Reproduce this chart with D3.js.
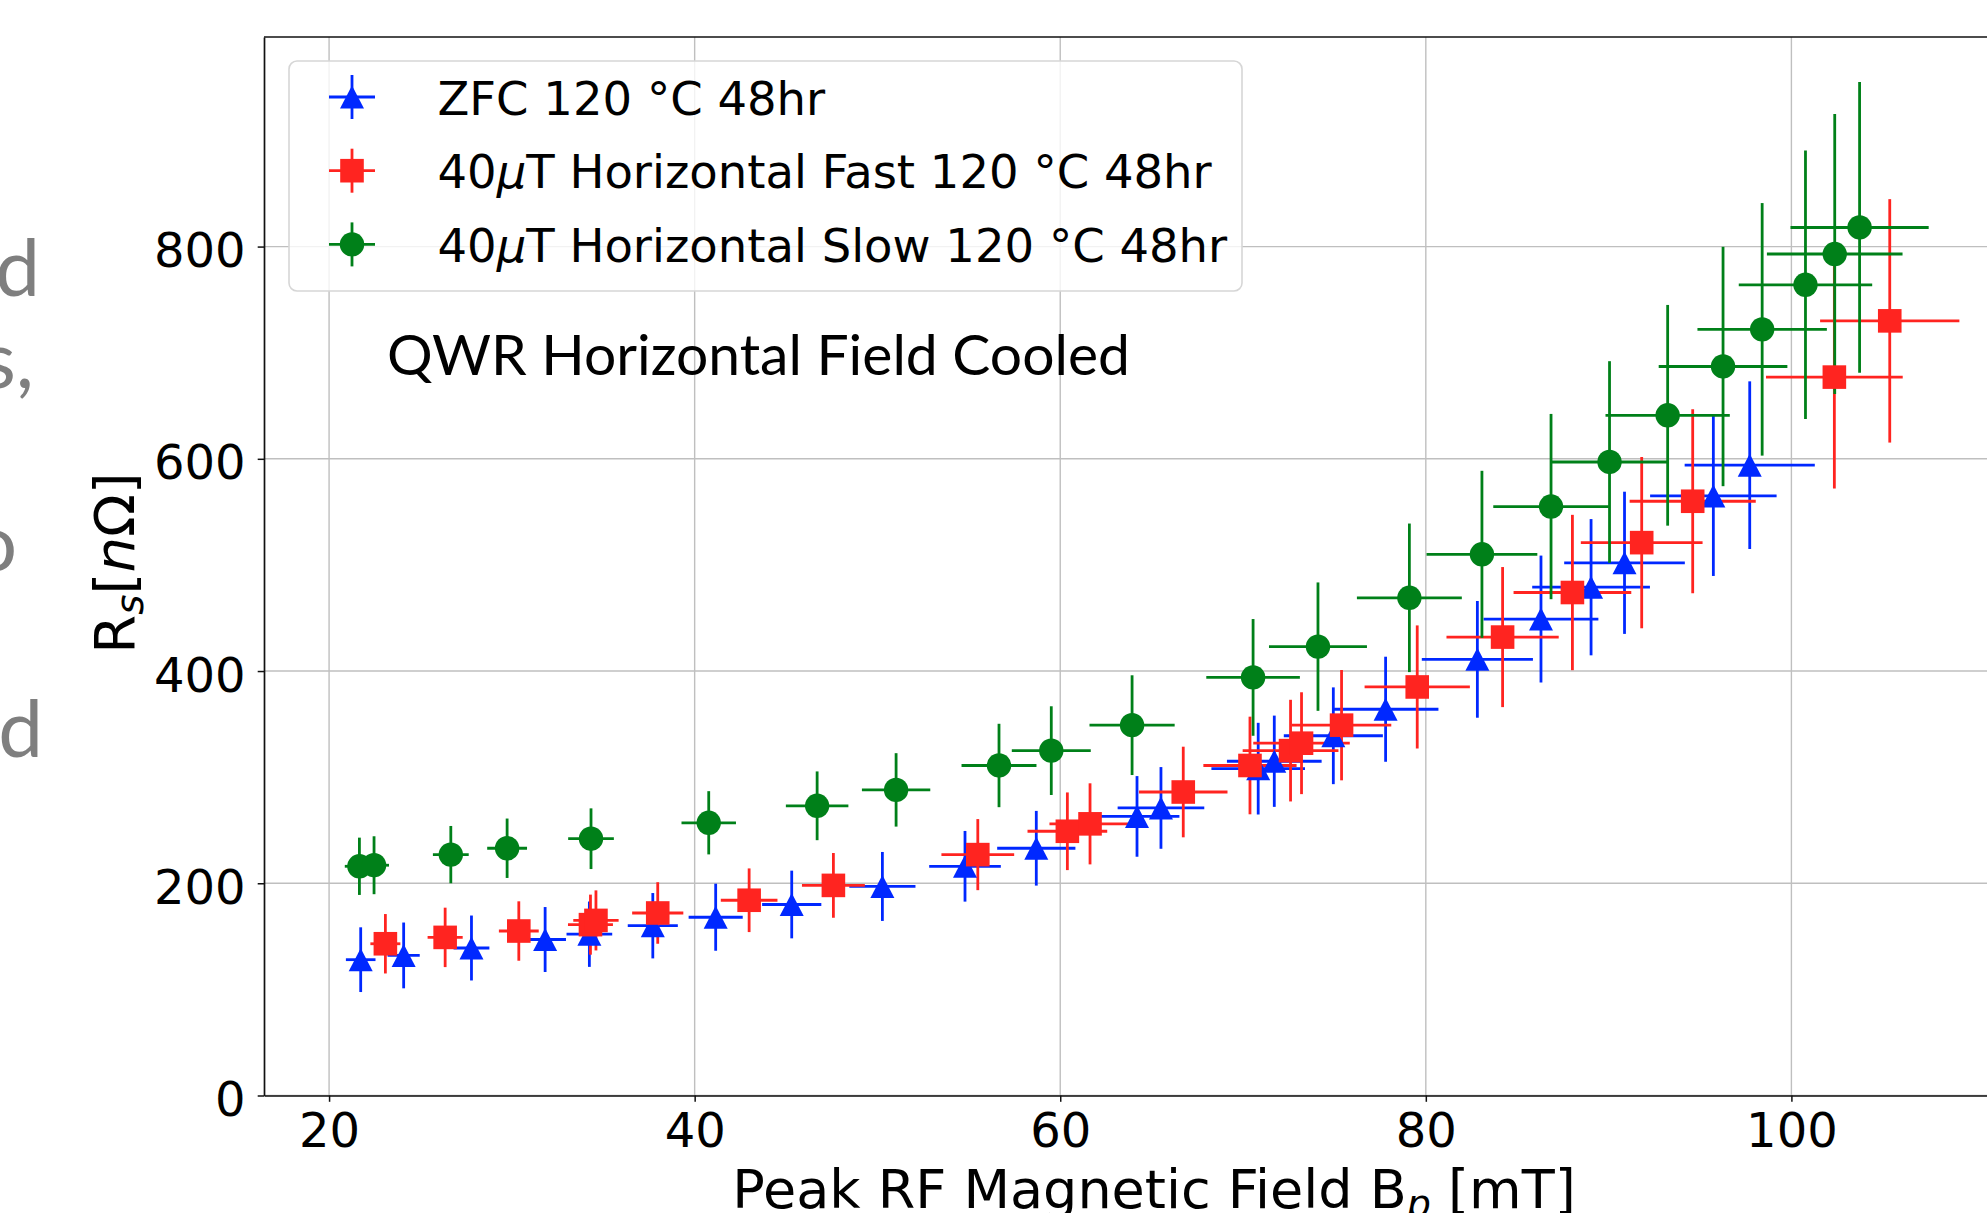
<!DOCTYPE html>
<html>
<head>
<meta charset="utf-8">
<script src="https://cdn.jsdelivr.net/npm/d3@7"></script>
<style>
    body { margin: 0; background: #fff; }
    svg { display: block; }
    .axis .tick text { font-family: 'DejaVu Sans'; font-size: 48px; fill: #000; }
</style>
</head>
<body>
<div class="chart-container"></div>
<script>
// Data
const xTicks = [20, 40, 60, 80, 100];
const yTicks = [0, 200, 400, 600, 800];
const seriesNames = ['ZFC', 'Fast', 'Slow'];

// ZFC 120 °C 48hr (blue triangles)
const zfcX = [21.73, 24.08, 27.79, 31.82, 34.24, 37.71, 41.15, 45.31, 50.27, 54.79, 58.69, 64.2, 65.51, 70.83, 71.71, 74.94, 77.8, 82.82, 86.3, 89.04, 90.87, 95.73, 97.72];
const zfcY = [128, 132, 139, 147, 152, 160, 168, 180, 197, 216, 233, 263, 271, 308, 315, 339, 364, 411, 449, 479, 502, 565, 594];
const zfcXErr = [0.81, 0.88, 0.98, 1.14, 1.25, 1.37, 1.48, 1.62, 1.81, 1.96, 2.14, 2.32, 2.37, 2.56, 2.59, 2.71, 2.89, 3.04, 3.14, 3.22, 3.3, 3.46, 3.56];
const zfcYErr = [30.5, 31, 30.6, 30.6, 30.8, 30.8, 31.6, 31.9, 32.5, 33.3, 35.2, 38, 38.5, 43.2, 43, 45.6, 49.5, 55, 59.8, 64.2, 67, 75.4, 79];

// 40uT Horizontal Fast (red squares)
const fastX = [23.08, 26.35, 30.38, 34.3, 34.6, 37.98, 42.98, 47.59, 55.49, 60.39, 61.63, 66.73, 70.38, 72.6, 73.2, 75.39, 79.53, 84.2, 88.02, 91.81, 94.6, 102.35, 105.38];
const fastY = [143, 149, 155, 161, 165, 172, 184, 198, 227, 249, 256, 286, 311, 325, 332, 349, 385, 432, 474, 521, 560, 677, 730];
const fastXErr = [0.82, 0.96, 1.09, 1.23, 1.24, 1.4, 1.55, 1.72, 1.99, 2.18, 2.22, 2.42, 2.55, 2.62, 2.64, 2.72, 2.88, 3.07, 3.22, 3.33, 3.45, 3.74, 3.81];
const fastYErr = [28, 28, 28, 28.3, 28.3, 29, 30, 30.5, 33.5, 36.6, 38.2, 42.7, 46, 47.9, 48, 52, 58, 66, 73.2, 80.7, 86.7, 105, 114.7];

// 40uT Horizontal Slow (green circles)
const slowX = [21.66, 22.46, 26.66, 29.74, 34.33, 40.77, 46.7, 51.02, 56.65, 59.51, 63.93, 70.55, 74.1, 79.1, 83.07, 86.85, 90.05, 93.23, 96.26, 98.4, 100.77, 102.37, 103.73];
const slowY = [216, 217, 227, 233, 242, 257, 273, 288, 311, 325, 349, 394, 423, 469, 510, 555, 597, 641, 687, 722, 764, 793, 818];
const slowXErr = [0.8, 0.82, 0.98, 1.09, 1.25, 1.49, 1.71, 1.87, 2.05, 2.16, 2.33, 2.56, 2.68, 2.87, 3.03, 3.16, 3.24, 3.4, 3.52, 3.54, 3.65, 3.71, 3.78];
const slowYErr = [27, 27.3, 27, 28, 28.6, 29.8, 32.4, 34.6, 39.3, 41.8, 47, 55, 60.5, 70, 78.7, 87.3, 95, 104, 112.8, 119, 126.6, 132, 137];

const colors = { ZFC: '#0028ff', Fast: '#ff2420', Slow: '#008019' };

// marker shapes (centred on the point)
const markerPath = {
    ZFC: 'M0,-11.5L12,11.5L-12,11.5Z',
    Fast: 'M-11.8,-11.8H11.8V11.8H-11.8Z',
    Slow: d3.symbol(d3.symbolCircle, Math.PI * 12.2 * 12.2)()
};

function zipSeries(xs, ys, xe, ye) {
    return xs.map((x, i) => ({ x: x, y: ys[i], xe: xe[i], ye: ye[i] }));
}

function setupCanvas() {
    const svg_width = 1987;
    const svg_height = 1213;
    const chart_margin = { top: 37, left: 264 };
    const chart_width = 2040 - chart_margin.left;
    const chart_height = 1095.5 - chart_margin.top;

    const svg = d3.select('.chart-container').append('svg')
        .attr('width', svg_width).attr('height', svg_height);

    // leftover slide text on the far left (cut off in the original too)
    const slideText = [
        { t: 'd', x: 40, y: 296 },
        { t: 's,', x: 34, y: 388 },
        { t: 'o', x: 17, y: 571 },
        { t: 'd', x: 43, y: 757 }
    ];
    svg.selectAll('.slide-text').data(slideText).enter()
        .append('text').attr('class', 'slide-text')
        .attr('x', d => d.x).attr('y', d => d.y)
        .attr('text-anchor', 'end')
        .style('font-family', 'Lato').style('font-size', '80px').style('fill', '#7f7f7f')
        .text(d => d.t);

    const this_svg = svg.append('g')
        .attr('transform', `translate(${chart_margin.left},${chart_margin.top})`);

    const xScale = d3.scaleLinear().domain([16.44, 113.6]).range([0, chart_width]);
    const yScale = d3.scaleLinear().domain([0, 997.5]).range([chart_height, 0]);

    // grid
    this_svg.append('g').attr('class', 'grid')
        .selectAll('line.vx').data(xTicks).enter().append('line')
        .attr('x1', d => xScale(d)).attr('x2', d => xScale(d))
        .attr('y1', 0).attr('y2', chart_height)
        .style('stroke', '#bfbfbf').style('stroke-width', 1.4);
    this_svg.append('g').attr('class', 'grid')
        .selectAll('line.hy').data(yTicks).enter().append('line')
        .attr('x1', 0).attr('x2', chart_width)
        .attr('y1', d => yScale(d)).attr('y2', d => yScale(d))
        .style('stroke', '#bfbfbf').style('stroke-width', 1.4);

    const allSeries = {
        ZFC: zipSeries(zfcX, zfcY, zfcXErr, zfcYErr),
        Fast: zipSeries(fastX, fastY, fastXErr, fastYErr),
        Slow: zipSeries(slowX, slowY, slowXErr, slowYErr)
    };

    // error bars first, markers on top
    seriesNames.forEach(name => {
        const g = this_svg.append('g').attr('class', 'errbars ' + name)
            .style('stroke', colors[name]).style('stroke-width', 2.8);
        g.selectAll('.xe').data(allSeries[name]).enter().append('line')
            .attr('x1', d => xScale(d.x - d.xe)).attr('x2', d => xScale(d.x + d.xe))
            .attr('y1', d => yScale(d.y)).attr('y2', d => yScale(d.y));
        g.selectAll('.ye').data(allSeries[name]).enter().append('line')
            .attr('x1', d => xScale(d.x)).attr('x2', d => xScale(d.x))
            .attr('y1', d => yScale(d.y - d.ye)).attr('y2', d => yScale(d.y + d.ye));
    });
    seriesNames.forEach(name => {
        this_svg.append('g').attr('class', 'markers ' + name)
            .selectAll('path').data(allSeries[name]).enter().append('path')
            .attr('d', markerPath[name])
            .attr('transform', d => `translate(${xScale(d.x)},${yScale(d.y)})`)
            .style('fill', colors[name]);
    });

    // axes
    const xAxis = d3.axisBottom(xScale).tickValues(xTicks)
        .tickSizeInner(6.3).tickSizeOuter(0).tickPadding(11);
    this_svg.append('g').attr('class', 'x axis')
        .attr('transform', `translate(0,${chart_height})`)
        .call(xAxis);
    const yAxis = d3.axisLeft(yScale).tickValues(yTicks)
        .tickSizeInner(6.3).tickSizeOuter(0).tickPadding(12.2);
    const yAxisDraw = this_svg.append('g').attr('class', 'y axis')
        .call(yAxis);
    yAxisDraw.selectAll('text').attr('dy', '0.42em');
    this_svg.selectAll('.axis path.domain').style('stroke', '#111').style('stroke-width', 1.7);
    this_svg.selectAll('.axis .tick line').style('stroke', '#111').style('stroke-width', 1.5);
    this_svg.append('line')
        .attr('x1', 0).attr('x2', chart_width).attr('y1', 0).attr('y2', 0)
        .style('stroke', '#111').style('stroke-width', 1.7);

    // axis labels
    const xLabel = svg.append('text')
        .attr('x', 1154).attr('y', 1208).attr('text-anchor', 'middle')
        .style('font-family', 'DejaVu Sans').style('font-size', '54px').style('fill', '#000');
    xLabel.append('tspan').text('Peak RF Magnetic Field B');
    xLabel.append('tspan').text('p').style('font-style', 'italic').style('font-size', '38px').attr('dy', 9);
    xLabel.append('tspan').text(' [mT]').attr('dy', -9);

    const yLabel = svg.append('text')
        .attr('transform', 'translate(134,563) rotate(-90)').attr('text-anchor', 'middle')
        .style('font-family', 'DejaVu Sans').style('font-size', '56px').style('fill', '#000');
    yLabel.append('tspan').text('R');
    yLabel.append('tspan').text('s').style('font-style', 'italic').style('font-size', '39px').attr('dy', 9);
    yLabel.append('tspan').text('[').attr('dy', -9);
    yLabel.append('tspan').text('n').style('font-style', 'italic');
    yLabel.append('tspan').text('Ω]');

    // annotation
    svg.append('text').attr('x', 387).attr('y', 375)
        .style('font-family', 'Lato').style('font-size', '57px').style('fill', '#000')
        .text('QWR Horizontal Field Cooled');

    // legend
    const legend = svg.append('g').attr('class', 'legend');
    legend.append('rect')
        .attr('x', 289).attr('y', 61).attr('width', 953).attr('height', 230)
        .attr('rx', 8)
        .style('fill', '#fff').style('fill-opacity', 0.8)
        .style('stroke', '#d6d6d6').style('stroke-width', 1.6);
    const legendRows = [
        { name: 'ZFC', pre: 'ZFC 120 °C 48hr', mu: '', post: '' },
        { name: 'Fast', pre: '40', mu: 'μ', post: 'T Horizontal Fast 120 °C 48hr' },
        { name: 'Slow', pre: '40', mu: 'μ', post: 'T Horizontal Slow 120 °C 48hr' }
    ];
    const rows = legend.selectAll('.row').data(legendRows).enter().append('g')
        .attr('class', 'row')
        .attr('transform', (d, i) => `translate(352,${97 + i * 73.7})`);
    rows.append('line').attr('x1', -23).attr('x2', 23).attr('y1', 0).attr('y2', 0)
        .style('stroke', d => colors[d.name]).style('stroke-width', 2.8);
    rows.append('line').attr('x1', 0).attr('x2', 0).attr('y1', -22).attr('y2', 22)
        .style('stroke', d => colors[d.name]).style('stroke-width', 2.8);
    rows.append('path').attr('d', d => markerPath[d.name]).style('fill', d => colors[d.name]);
    const rowText = rows.append('text').attr('x', 85.5).attr('y', 17.5)
        .style('font-family', 'DejaVu Sans').style('font-size', '46.5px').style('fill', '#000');
    rowText.append('tspan').text(d => d.pre);
    rowText.append('tspan').text(d => d.mu).style('font-style', 'italic');
    rowText.append('tspan').text(d => d.post);
}

setupCanvas();
</script>
</body>
</html>
